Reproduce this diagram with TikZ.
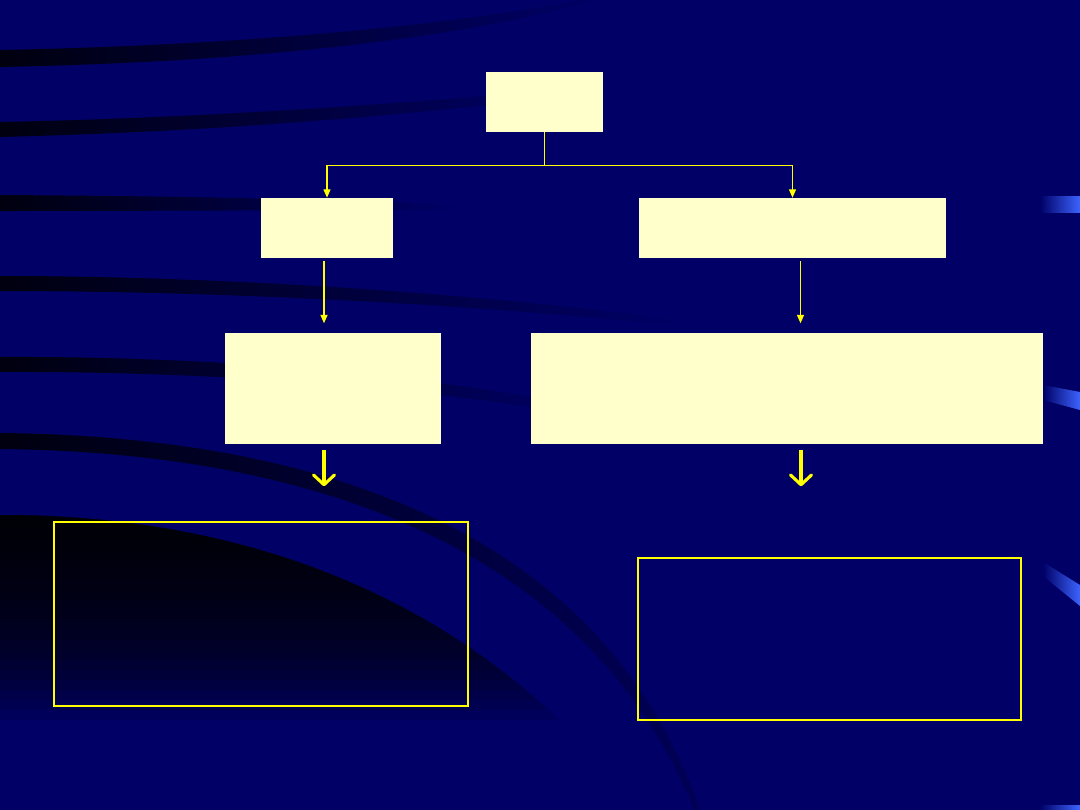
\documentclass[tikz,border=0pt]{standalone}
\usepackage{tikz}
\usepackage{xcolor}
\definecolor{slidecolor}{RGB}{0,0,102}
\definecolor{boxcolor}{RGB}{255,255,204}
\definecolor{linkcolor}{RGB}{255,255,0}
\definecolor{accentcolor}{RGB}{60,100,255}
\colorlet{streakcolor}{black!85!slidecolor}
\usetikzlibrary{
  arrows.meta,
  shadings,
}

\begin{document}
\begin{tikzpicture}[x=0.025cm, y=-0.025cm]
	\tikzstyle{fillbox}=[draw=none, fill=boxcolor, inner sep=0pt]
	\tikzstyle{framebox}=[draw=linkcolor, inner sep=0pt]
	\tikzstyle{link}=[linkcolor, line width=0.9pt, -{Triangle[length=6pt,width=5pt]}]
	\tikzstyle{bigarrow}=[linkcolor, line width=2.2pt, -{Straight Barb[length=7pt,width=15pt,round]}]
	% background
	\fill [slidecolor] (0,0) rectangle (1080,810);
	\useasboundingbox (0,0) rectangle (1080,810);
	\begin{scope}
		\clip (0,515) .. controls (250,515) and (480,600) .. (640,810) -- (0,810) -- cycle;
		\foreach \d in {530,540,...,720}
			\fill [black, opacity=0.1] (0,515) rectangle (700,\d);
	\end{scope}
	% streaks
	\shade [left color=streakcolor, right color=slidecolor]
		(0,50) .. controls (250,45) and (450,25) .. (580,0) -- (600,0)
		.. controls (450,40) and (250,62) .. (0,67) -- cycle;
	\shade [left color=streakcolor, right color=slidecolor]
		(0,122) .. controls (200,118) and (380,105) .. (560,90) -- (570,96)
		.. controls (380,118) and (200,132) .. (0,137) -- cycle;
	\shade [left color=streakcolor, right color=slidecolor]
		(0,195) .. controls (150,196) and (300,198) .. (460,205) -- (460,210)
		.. controls (300,210) and (150,211) .. (0,211) -- cycle;
	\shade [left color=streakcolor, right color=slidecolor]
		(0,276) .. controls (200,276) and (450,290) .. (680,320) -- (680,326)
		.. controls (450,302) and (200,291) .. (0,291) -- cycle;
	\shade [left color=streakcolor, right color=slidecolor]
		(0,357) .. controls (200,356) and (420,372) .. (600,410) -- (600,418)
		.. controls (420,386) and (200,371) .. (0,372) -- cycle;
	\shade [left color=streakcolor, right color=slidecolor!85!black]
		(0,433) .. controls (300,436) and (600,520) .. (700,810) -- (694,810)
		.. controls (585,540) and (300,452) .. (0,449) -- cycle;
	% accents
	\shade [left color=slidecolor, right color=accentcolor] (1040,196) rectangle (1080,212);
	\shade [left color=slidecolor, right color=accentcolor] (1043,385) -- (1080,392) -- (1080,410) -- (1043,400) -- cycle;
	\shade [left color=slidecolor, right color=accentcolor] (1043,562) -- (1080,585) -- (1080,606) -- (1043,576) -- cycle;
	\shade [left color=slidecolor, right color=accentcolor] (1040,805) rectangle (1080,810);
	% boxes
	\node (top) [fillbox, minimum width=2.925cm, minimum height=1.5cm] at (544.5,102) {};
	\node (midL) [fillbox, minimum width=3.3cm, minimum height=1.5cm] at (327,228) {};
	\node (midR) [fillbox, minimum width=7.675cm, minimum height=1.5cm] at (792.5,228) {};
	\node (lowL) [fillbox, minimum width=5.4cm, minimum height=2.775cm] at (333,388.5) {};
	\node (lowR) [fillbox, minimum width=12.8cm, minimum height=2.775cm] at (787,388.5) {};
	\node (outL) [framebox, line width=1.3pt, minimum width=10.35cm, minimum height=4.6cm] at (261,614) {};
	\node (outR) [framebox, line width=0.8pt, minimum width=9.575cm, minimum height=4.05cm] at (829.5,639) {};
	% links
	\draw [link] (top.south) -- ++(0,33) -| (midL.north);
	\draw [link] (top.south) -- ++(0,33) -| (midR.north);
	\draw [link] ([xshift=-0.075cm,yshift=-0.075cm]midL.south) -- ++(0,62);
	\draw [link] ([xshift=0.2cm,yshift=-0.075cm]midR.south) -- ++(0,62);
	\draw [bigarrow] ([xshift=-0.225cm,yshift=-0.15cm]lowL.south) -- ++(0,36);
	\draw [bigarrow] ([xshift=0.35cm,yshift=-0.15cm]lowR.south) -- ++(0,36);
\end{tikzpicture}
\end{document}
